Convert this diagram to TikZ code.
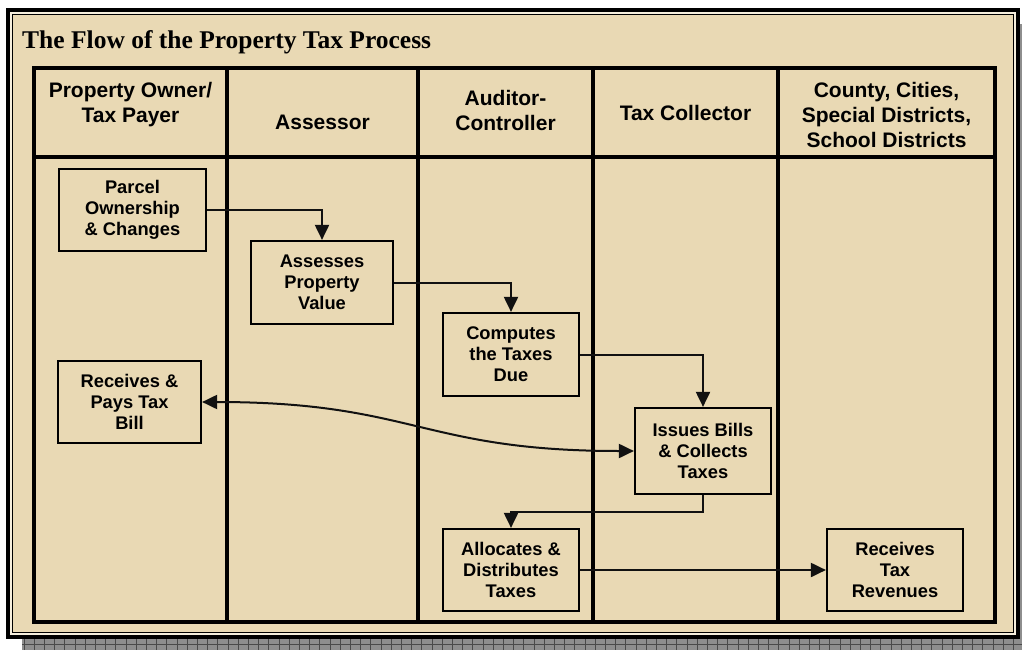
\documentclass[tikz,border=0pt]{standalone}
\usepackage{fontspec}
\setmainfont{Liberation Serif}
\setsansfont{Liberation Sans}
\usetikzlibrary{arrows.meta}
\definecolor{tan}{HTML}{E9D9B4}
\definecolor{cream}{HTML}{F6EFDD}
\definecolor{shadowgray}{HTML}{8E8E8E}
\definecolor{shadowline}{HTML}{4A4A4A}
\definecolor{linek}{HTML}{111111}
\tikzset{
  procbox/.style={draw=black, line width=2.2pt, fill=tan, align=center, inner sep=0pt,
    font=\sffamily\bfseries\fontsize{18.3}{21}\selectfont},
  lanehead/.style={align=center, inner sep=0pt, anchor=north,
    font=\sffamily\bfseries\fontsize{21}{25}\selectfont},
  flow/.style={draw=linek, line width=2pt, -{Triangle[length=15pt,width=14pt]}},
  flowboth/.style={draw=linek, line width=2pt, {Triangle[length=15pt,width=14pt]}-{Triangle[length=15pt,width=14pt]}},
  tableline/.style={line width=3.4pt, draw=black},
}
\begin{document}
\begin{tikzpicture}[x=1pt,y=-1pt]
\useasboundingbox (0,0) rectangle (1022,650);
% shadow
\fill[shadowgray] (22,639) rectangle (1022,650);
\fill[shadowgray] (1019,24) rectangle (1022,650);
\foreach \i in {0,...,97} {
  \draw[shadowline, line width=0.9pt] (24+\i*10.2,639) -- (24+\i*10.2,650);
}
\draw[shadowline, line width=0.7pt] (22,644.5) -- (1022,644.5);
% outer frame
\fill[cream] (6,8) rectangle (1020,639);
\draw[black, line width=4pt] (8,10) rectangle (1018,637);
\draw[black, line width=1.3pt, fill=tan] (12.5,14.5) rectangle (1013.5,632.5);
% title
\node[anchor=base west, inner sep=0pt, font=\rmfamily\bfseries\fontsize{25.5}{30}\selectfont] (title) at (22,49) {The Flow of the Property Tax Process};
% table
\draw[tableline] (34,68) rectangle (995,622);
\draw[tableline] (34,157) -- (995,157);
\foreach \x in {227,418,593,778} {
  \draw[tableline] (\x,68) -- (\x,622);
}
% lane headers
\node[lanehead] (h1) at (130.5,82) {Property Owner/\\Tax Payer};
\node[lanehead] (h2) at (322.5,115) {Assessor};
\node[lanehead] (h3) at (505.5,90) {Auditor-\\Controller};
\node[lanehead] (h4) at (685.5,105) {Tax Collector};
\node[lanehead] (h5) at (886.5,82) {County, Cities,\\Special Districts,\\School Districts};
% process boxes
\node[procbox, minimum width=147pt, minimum height=82pt] (b1) at (132.5,210) {Parcel\\Ownership\\\& Changes};
\node[procbox, minimum width=142pt, minimum height=83pt] (b2) at (322,282.5) {Assesses\\Property\\Value};
\node[procbox, minimum width=136pt, minimum height=83pt] (b3) at (511,354.5) {Computes\\the Taxes\\Due};
\node[procbox, minimum width=136pt, minimum height=86pt] (b4) at (703,451) {Issues Bills\\\& Collects\\Taxes};
\node[procbox, minimum width=143pt, minimum height=82pt] (b5) at (129.5,402) {Receives \&\\Pays Tax\\Bill};
\node[procbox, minimum width=136pt, minimum height=82pt] (b6) at (511,570) {Allocates \&\\Distributes\\Taxes};
\node[procbox, minimum width=136pt, minimum height=82pt] (b7) at (895,570) {Receives\\Tax\\Revenues};
% connectors
\draw[flow] (b1.east) -| (b2.north);
\draw[flow] (b2.east) -| (b3.north);
\draw[flow] (b3.east) -| (b4.north);
\draw[flow] (b4.south) -- ++(0,17) -| (b6.north);
\draw[flow] (b6.east) -- (b7.west);
\draw[flowboth] (b5.east) to[out=0,in=180,looseness=1.25] (b4.west);
\end{tikzpicture}
\end{document}
